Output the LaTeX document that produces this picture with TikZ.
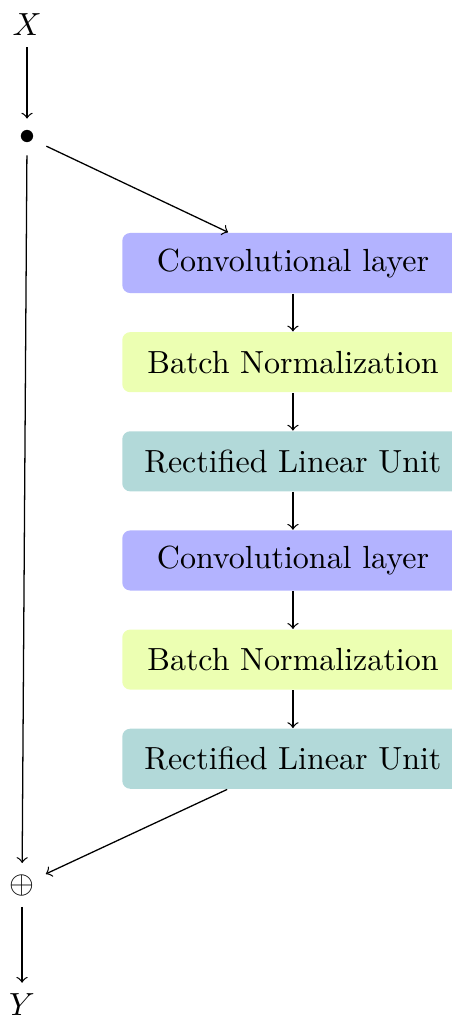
\documentclass[tikz,border=0pt]{standalone}
\usepackage{amsmath, amssymb}
\usepackage{tikz}
\usetikzlibrary{positioning}
\definecolor{convblue}{RGB}{179,179,255}
\definecolor{bnlime}{RGB}{236,255,178}
\definecolor{reluteal}{RGB}{178,217,217}

\begin{document}
\begin{tikzpicture}[
    layer/.style={rounded corners=2.5pt,minimum width=3.75cm,minimum height=0.66cm},
    node distance=0.415cm
  ]
    \useasboundingbox (0,0) rectangle (4.954,-11.171);

    % input and split point
    \node (x) at (0.297,-0.275) {$X$};
    \node (dot) at (0.297,-1.505) {$\bullet$};

    % residual branch
    \node[layer,fill=convblue] (conv1) at (3.218,-2.889) {Convolutional layer};
    \node[layer,fill=bnlime,below=of conv1] (bn1) {Batch Normalization};
    \node[layer,fill=reluteal,below=of bn1] (relu1) {Rectified Linear Unit};
    \node[layer,fill=convblue,below=of relu1] (conv2) {Convolutional layer};
    \node[layer,fill=bnlime,below=of conv2] (bn2) {Batch Normalization};
    \node[layer,fill=reluteal,below=of bn2] (relu2) {Rectified Linear Unit};

    % sum and output
    \node (sum) at (0.242,-9.721) {$\oplus$};
    \node (y) at (0.242,-11.039) {$Y$};

    % Arrows
    \draw[->] (x) -- (dot);
    \draw[->] (dot) -- (conv1);
    \draw[->] (conv1) -- (bn1);
    \draw[->] (bn1) -- (relu1);
    \draw[->] (relu1) -- (conv2);
    \draw[->] (conv2) -- (bn2);
    \draw[->] (bn2) -- (relu2);
    \draw[->] (relu2) -- (sum);
    \draw[->] (dot) -- (sum);
    \draw[->] (sum) -- (y);
\end{tikzpicture}
\end{document}
